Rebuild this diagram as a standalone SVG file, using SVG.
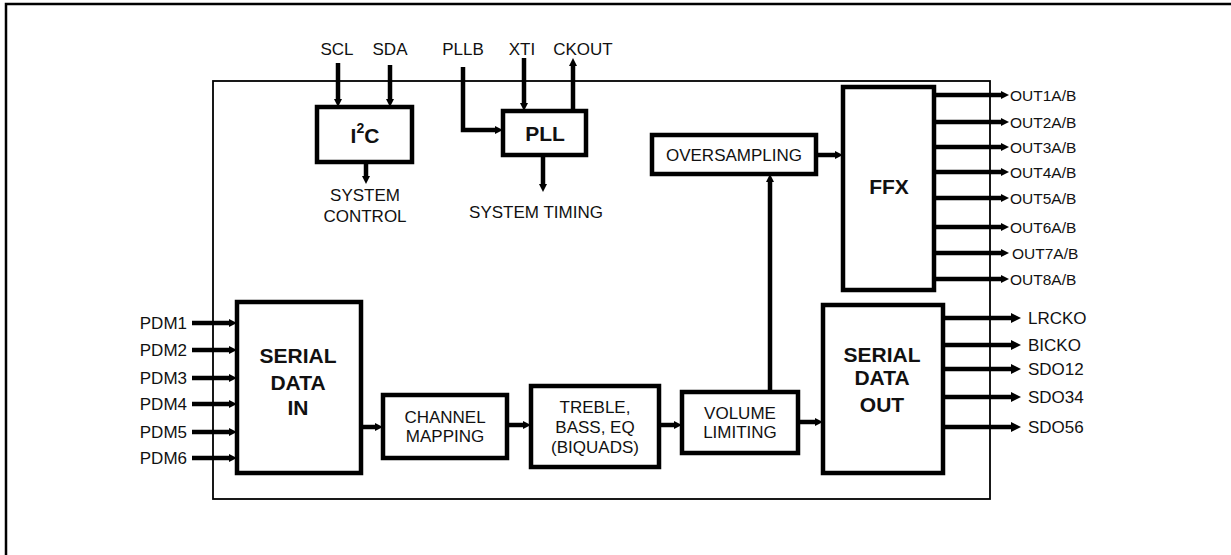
<svg xmlns="http://www.w3.org/2000/svg" width="1231" height="555" viewBox="0 0 1231 555">
<style>
  .lbl{font-family:"Liberation Sans",Arial,sans-serif;font-size:17px;fill:#111}
  .sm{font-family:"Liberation Sans",Arial,sans-serif;font-size:15.5px;fill:#111}
  .b{font-family:"Liberation Sans",Arial,sans-serif;font-weight:bold;font-size:21px;fill:#111}
  .box{fill:#fff;stroke:#000;stroke-width:4.5}
  .w{stroke:#000;stroke-width:4.5;fill:none}
  .c{text-anchor:middle}
  .r{text-anchor:end}
</style>
<defs>
  <marker id="ah" viewBox="0 0 10 10" refX="0" refY="5" markerWidth="8" markerHeight="9" markerUnits="userSpaceOnUse" orient="auto">
    <path d="M0,0 L10,5 L0,10 z" fill="#000"/>
  </marker>
  <marker id="ahl" viewBox="0 0 10 10" refX="0" refY="5" markerWidth="11" markerHeight="10" markerUnits="userSpaceOnUse" orient="auto">
    <path d="M0,0 L10,5 L0,10 z" fill="#000"/>
  </marker>
</defs>
<rect x="0" y="0" width="1231" height="555" fill="#fff"/>
<rect id="frame" x="6" y="4" width="1260" height="580" fill="none" stroke="#000" stroke-width="2.5"/>
<rect id="chip" x="213" y="81" width="777" height="418" fill="none" stroke="#000" stroke-width="1.8"/>

<g id="connectors">
  <line class="w" x1="338" y1="63" x2="338" y2="99" marker-end="url(#ah)"/>
  <line class="w" x1="390" y1="65" x2="390" y2="99" marker-end="url(#ah)"/>
  <line class="w" x1="366" y1="162" x2="366" y2="176" marker-end="url(#ah)"/>
  <polyline class="w" points="463,67 463,130 495,130" marker-end="url(#ah)"/>
  <line class="w" x1="524" y1="58" x2="524" y2="103" marker-end="url(#ah)"/>
  <line class="w" x1="573" y1="111" x2="573" y2="66" marker-end="url(#ah)"/>
  <line class="w" x1="543" y1="155" x2="543" y2="184" marker-end="url(#ah)"/>
  <line class="w" x1="816" y1="155" x2="835" y2="155" marker-end="url(#ah)"/>
  <line class="w" x1="770" y1="392" x2="770" y2="182" marker-end="url(#ah)"/>
  <line class="w" x1="934" y1="95" x2="1001" y2="95" marker-end="url(#ah)"/>
  <line class="w" x1="934" y1="122" x2="1001" y2="122" marker-end="url(#ah)"/>
  <line class="w" x1="934" y1="147" x2="1001" y2="147" marker-end="url(#ah)"/>
  <line class="w" x1="934" y1="172" x2="1001" y2="172" marker-end="url(#ah)"/>
  <line class="w" x1="934" y1="198" x2="1001" y2="198" marker-end="url(#ah)"/>
  <line class="w" x1="934" y1="227" x2="1001" y2="227" marker-end="url(#ah)"/>
  <line class="w" x1="934" y1="253" x2="1001" y2="253" marker-end="url(#ah)"/>
  <line class="w" x1="934" y1="279" x2="1001" y2="279" marker-end="url(#ah)"/>
  <line class="w" x1="192" y1="323" x2="229" y2="323" marker-end="url(#ah)"/>
  <line class="w" x1="192" y1="350" x2="229" y2="350" marker-end="url(#ah)"/>
  <line class="w" x1="192" y1="378" x2="229" y2="378" marker-end="url(#ah)"/>
  <line class="w" x1="192" y1="404" x2="229" y2="404" marker-end="url(#ah)"/>
  <line class="w" x1="192" y1="432" x2="229" y2="432" marker-end="url(#ah)"/>
  <line class="w" x1="192" y1="458" x2="229" y2="458" marker-end="url(#ah)"/>
  <line class="w" x1="361" y1="427" x2="375" y2="427" marker-end="url(#ah)"/>
  <line class="w" x1="507" y1="425" x2="523" y2="425" marker-end="url(#ah)"/>
  <line class="w" x1="659" y1="425" x2="674" y2="425" marker-end="url(#ah)"/>
  <line class="w" x1="798" y1="422" x2="815" y2="422" marker-end="url(#ah)"/>
  <line class="w" x1="943" y1="318" x2="1011" y2="318" marker-end="url(#ahl)"/>
  <line class="w" x1="943" y1="345" x2="1011" y2="345" marker-end="url(#ahl)"/>
  <line class="w" x1="943" y1="369" x2="1011" y2="369" marker-end="url(#ahl)"/>
  <line class="w" x1="943" y1="397" x2="1011" y2="397" marker-end="url(#ahl)"/>
  <line class="w" x1="943" y1="427" x2="1011" y2="427" marker-end="url(#ahl)"/>
</g>

<g id="i2c">
  <rect class="box" x="317" y="107" width="95" height="55"/>
  <text class="b c" x="365" y="143" font-size="23">I<tspan dy="-10" font-size="14">2</tspan><tspan dy="10">C</tspan></text>
</g>
<g id="pll">
  <rect class="box" x="503" y="111" width="83" height="44"/>
  <text class="b c" x="545" y="141" font-size="20">PLL</text>
</g>
<g id="oversampling">
  <rect class="box" x="652" y="135" width="164" height="39" stroke-width="3.5"/>
  <text class="lbl c" x="734" y="161" font-size="16">OVERSAMPLING</text>
</g>
<g id="ffx">
  <rect class="box" x="843" y="87" width="91" height="203"/>
  <text class="b c" x="889" y="194">FFX</text>
</g>
<g id="serial-in">
  <rect class="box" x="237" y="302" width="124" height="171"/>
  <text class="b c" x="298" y="363">SERIAL</text>
  <text class="b c" x="298" y="390">DATA</text>
  <text class="b c" x="298" y="415">IN</text>
</g>
<g id="channel-mapping">
  <rect class="box" x="383" y="395" width="124" height="63"/>
  <text class="lbl c" x="445" y="423">CHANNEL</text>
  <text class="lbl c" x="445" y="442">MAPPING</text>
</g>
<g id="treble">
  <rect class="box" x="531" y="386" width="128" height="81"/>
  <text class="lbl c" x="595" y="413">TREBLE,</text>
  <text class="lbl c" x="595" y="433">BASS, EQ</text>
  <text class="lbl c" x="595" y="453">(BIQUADS)</text>
</g>
<g id="volume">
  <rect class="box" x="682" y="392" width="116" height="61"/>
  <text class="lbl c" x="740" y="419">VOLUME</text>
  <text class="lbl c" x="740" y="438">LIMITING</text>
</g>
<g id="serial-out">
  <rect class="box" x="823" y="305" width="120" height="168"/>
  <text class="b c" x="882" y="362">SERIAL</text>
  <text class="b c" x="882" y="385">DATA</text>
  <text class="b c" x="882" y="412">OUT</text>
</g>

<g id="labels">
  <text class="lbl c" x="337" y="55">SCL</text>
  <text class="lbl c" x="390" y="55">SDA</text>
  <text class="lbl c" x="463" y="55">PLLB</text>
  <text class="lbl c" x="522" y="55">XTI</text>
  <text class="lbl c" x="583" y="55">CKOUT</text>
  <text class="lbl c" x="365" y="201">SYSTEM</text>
  <text class="lbl c" x="365" y="222">CONTROL</text>
  <text class="lbl c" x="536" y="218">SYSTEM TIMING</text>
  <text class="sm" x="1010" y="101">OUT1A/B</text>
  <text class="sm" x="1010" y="128">OUT2A/B</text>
  <text class="sm" x="1010" y="153">OUT3A/B</text>
  <text class="sm" x="1010" y="178">OUT4A/B</text>
  <text class="sm" x="1010" y="204">OUT5A/B</text>
  <text class="sm" x="1010" y="233">OUT6A/B</text>
  <text class="sm" x="1012" y="259">OUT7A/B</text>
  <text class="sm" x="1010" y="285">OUT8A/B</text>
  <text class="lbl r" x="187" y="329">PDM1</text>
  <text class="lbl r" x="187" y="356">PDM2</text>
  <text class="lbl r" x="187" y="384">PDM3</text>
  <text class="lbl r" x="187" y="410">PDM4</text>
  <text class="lbl r" x="187" y="438">PDM5</text>
  <text class="lbl r" x="187" y="464">PDM6</text>
  <text class="lbl" x="1028" y="324">LRCKO</text>
  <text class="lbl" x="1028" y="351">BICKO</text>
  <text class="lbl" x="1028" y="375">SDO12</text>
  <text class="lbl" x="1028" y="403">SDO34</text>
  <text class="lbl" x="1028" y="433">SDO56</text>
</g>
</svg>
